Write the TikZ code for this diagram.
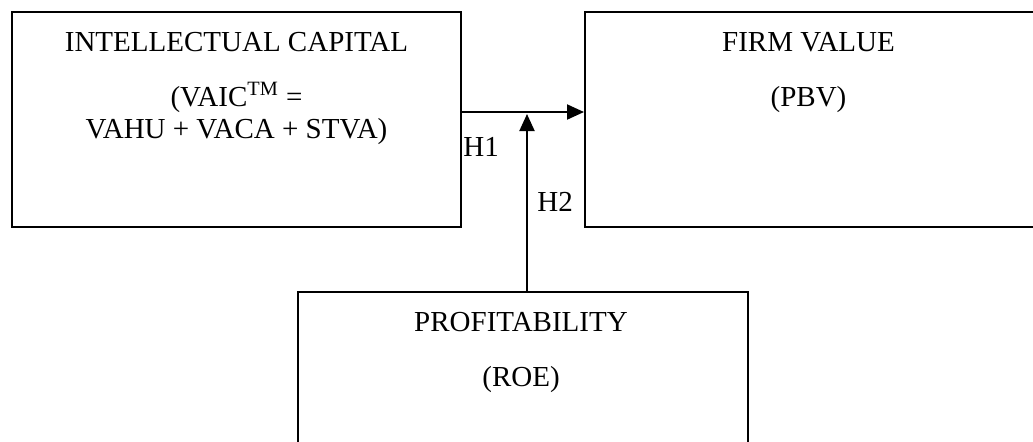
\documentclass[tikz,border=0pt]{standalone}
\usepackage{fontspec}
\setmainfont{Liberation Serif}
\usetikzlibrary{arrows.meta,calc}
\begin{document}
\begin{tikzpicture}[x=0.5pt,y=-0.5pt,
  box/.style={draw=black,line width=1pt,inner sep=0pt,fill=none},
  txt/.style={inner sep=0pt,font=\fontsize{14.5}{17.25}\selectfont},
  conn/.style={line width=1pt,-{Triangle[length=8.5pt,width=7.5pt]}}]
\useasboundingbox (0,0) rectangle (1033,441);
\node[box,minimum width=224.5pt,minimum height=107.5pt] (L) at (236.5,119.5) {};
\node[box,minimum width=224.5pt,minimum height=107.5pt] (R) at (809.5,119.5) {};
\node[box,minimum width=225pt,minimum height=80pt] (B) at (523,372) {};
% texts
\node[txt,anchor=base] (l1) at ($(L.north)+(0,40)$) {INTELLECTUAL CAPITAL};
\node[txt,anchor=base] (l2) at ($(L.north)+(0,95)$) {(VAIC\textsuperscript{TM} =};
\node[txt,anchor=base] (l3) at ($(L.north)+(0,127)$) {VAHU + VACA + STVA)};
\node[txt,anchor=base] (r1) at ($(R.north)+(-1,40)$) {FIRM VALUE};
\node[txt,anchor=base] (r2) at ($(R.north)+(-1,95)$) {(PBV)};
\node[txt,anchor=base] (b1) at ($(B.north)+(-2,40)$) {PROFITABILITY};
\node[txt,anchor=base] (b2) at ($(B.north)+(-2,95)$) {(ROE)};
% connectors
\coordinate (m) at (527,114);
\draw[conn] (L.east |- 0,112) -- (R.west |- 0,112);
\draw[conn] (B.north -| m) -- (m);
\node[txt,anchor=west] (h1) at (463,147) {H1};
\node[txt,anchor=west] (h2) at (537,202) {H2};
\end{tikzpicture}
\end{document}
